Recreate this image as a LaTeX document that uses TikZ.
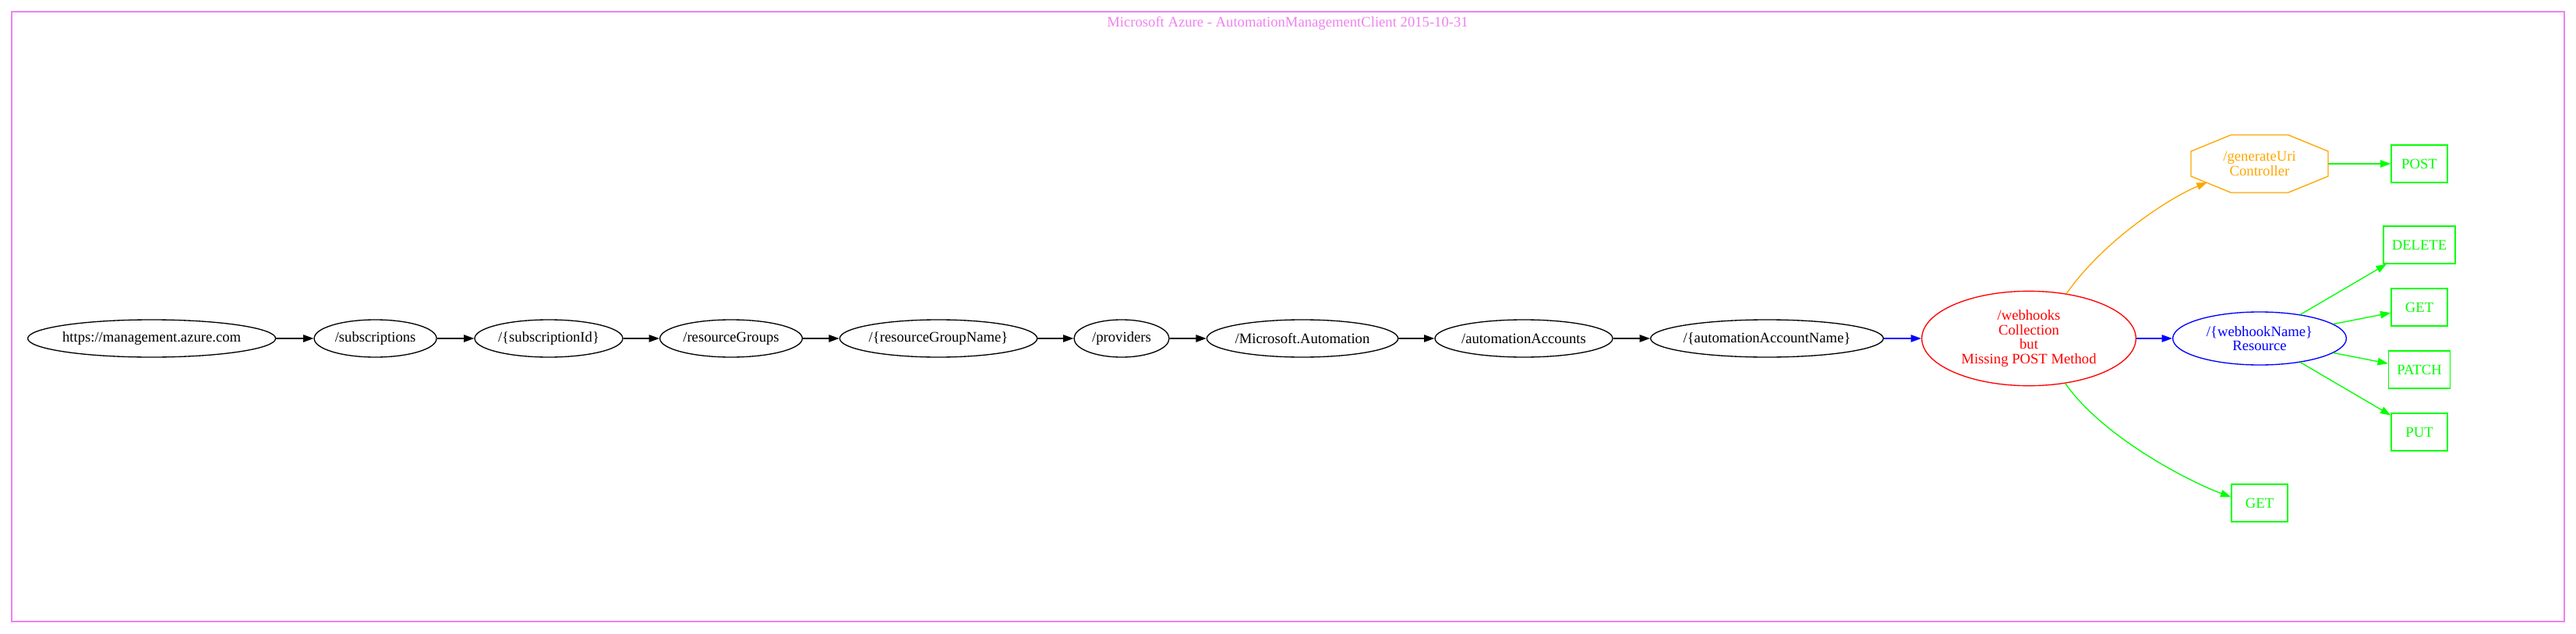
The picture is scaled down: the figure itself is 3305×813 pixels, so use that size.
\documentclass[tikz,border=0pt]{standalone}
\usepackage{fontspec}
\setmainfont{Liberation Serif}
\definecolor{myviolet}{RGB}{238,130,238}
\definecolor{mygreen}{RGB}{0,255,0}
\definecolor{myorange}{RGB}{255,165,0}
\definecolor{myred}{RGB}{255,0,0}
\definecolor{myblue}{RGB}{0,0,255}
\usetikzlibrary{calc,arrows.meta,shapes.geometric}
\tikzstyle{pathnode}=[draw,ellipse,minimum height=36pt,inner sep=0pt,line width=1pt,font=\fontsize{14}{14}\selectfont]
\tikzstyle{methodbox}=[draw=mygreen,text=mygreen,rectangle,minimum width=54pt,minimum height=36pt,inner sep=0pt,line width=1pt,font=\fontsize{14}{14}\selectfont]
\tikzstyle{link}=[line width=1pt,-{Triangle[length=10pt,width=7pt]}]
\begin{document}
\begin{tikzpicture}[x=0.75pt,y=-0.75pt]
\useasboundingbox (0,0) rectangle (3305,813);
\draw[myviolet,line width=1pt] (15,15) rectangle (3290,797);
\node[text=myviolet,font=\fontsize{14}{14}\selectfont] (title) at (1652,30) {Microsoft Azure - AutomationManagementClient 2015-10-31};
% path segments
\node[pathnode,inner xsep=-2pt,minimum width=238.5pt] (url) at (194.6,434) {https://management.azure.com};
\node[pathnode,minimum width=117.75pt] (subs) at (481.6,434) {/subscriptions};
\node[pathnode,minimum width=142.5pt] (subid) at (704,434) {/\{subscriptionId\}};
\node[pathnode,minimum width=137pt] (rgs) at (938,434) {/resourceGroups};
\node[pathnode,minimum width=190pt] (rgname) at (1204,434) {/\{resourceGroupName\}};
\node[pathnode,minimum width=91.5pt] (prov) at (1439,434) {/providers};
\node[pathnode,minimum width=184pt] (msauto) at (1671,434) {/Microsoft.Automation};
\node[pathnode,minimum width=171pt] (accts) at (1955,434) {/automationAccounts};
\node[pathnode,inner xsep=-2pt,minimum width=224pt] (acctname) at (2267,434) {/\{automationAccountName\}};
\node[pathnode,draw=myred,text=myred,align=center,minimum width=206pt,minimum height=91pt] (webhooks) at (2603,434) {/webhooks\\Collection\\but\\Missing POST Method};
\node[pathnode,draw=myblue,text=myblue,align=center,minimum width=167pt,minimum height=51pt] (whname) at (2899,434) {/\{webhookName\}\\Resource};
% controller
\node[text=myorange,align=center,minimum width=132pt,minimum height=55.5pt,inner sep=0pt,outer sep=0pt,font=\fontsize{14}{14}\selectfont] (gen) at (2899,210) {/generateUri\\Controller};
\draw[myorange,line width=1pt] ($(gen.north west)+(38.5pt,0)$) -- ($(gen.north east)+(-38.5pt,0)$) -- ($(gen.north east)+(0,-15.75pt)$) -- ($(gen.south east)+(0,15.75pt)$) -- ($(gen.south east)+(-38.5pt,0)$) -- ($(gen.south west)+(38.5pt,0)$) -- ($(gen.south west)+(0,15.75pt)$) -- ($(gen.north west)+(0,-15.75pt)$) -- cycle;
\coordinate (genin) at ($(gen.south west)+(15.5pt,9.75pt)$);
% methods
\node[methodbox] (post) at (3104,210) {POST};
\node[methodbox,minimum width=69pt] (delete) at (3104,314) {DELETE};
\node[methodbox] (get) at (3104,394) {GET};
\node[methodbox,minimum width=59.25pt] (patch) at (3104,474) {PATCH};
\node[methodbox] (put) at (3104,554) {PUT};
\node[methodbox] (get2) at (2899,645) {GET};
\coordinate (get2in) at ($(get2.west)+(0,5.8pt)$);
% edges
\foreach \a/\b in {url/subs,subs/subid,subid/rgs,rgs/rgname,rgname/prov,prov/msauto,msauto/accts,accts/acctname}
  \draw[link] (\a) -- (\b);
\draw[link,myblue] (acctname) -- (webhooks);
\draw[link,myblue] (webhooks) -- (whname);
\draw[link,myorange] (webhooks.50) .. controls +(55:63.75pt) and +(202:37.5pt) .. (genin);
\draw[link,mygreen] (webhooks.-51) .. controls +(-55:63.75pt) and +(160:41.25pt) .. (get2in);
\draw[link,mygreen] (gen) -- (post);
\foreach \m in {delete,get,patch,put}
  \draw[link,mygreen] (whname) -- (\m);
\end{tikzpicture}
\end{document}
